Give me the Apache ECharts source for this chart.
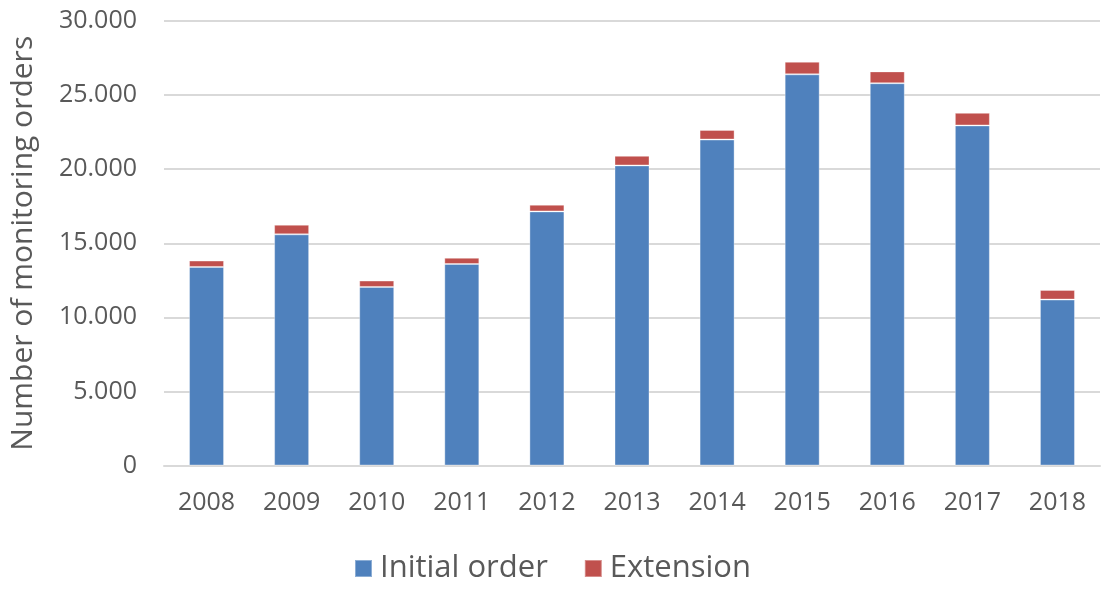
<!DOCTYPE html>
<html>
<head>
<meta charset="utf-8">
<script src="https://cdn.jsdelivr.net/npm/echarts@6/dist/echarts.min.js"></script>
<style>html,body{margin:0;padding:0;background:#fff}#c{width:1105px;height:592px}</style>
</head>
<body>
<div id="c"></div>
<script>
const categories = ['2008','2009','2010','2011','2012','2013','2014','2015','2016','2017','2018'];
const initialOrder = [13400, 15600, 12050, 13600, 17150, 20250, 22000, 26400, 25800, 22950, 11200];
const extension = [430, 650, 430, 420, 450, 650, 650, 850, 800, 850, 650];
const yTicks = [0, 5000, 10000, 15000, 20000, 25000, 30000];

const chart = echarts.init(document.getElementById('c'));
const font = '"Open Sans", sans-serif';
const txt = '#595959';
chart.setOption({
  animation: false,
  grid: { left: 164, right: 5, top: 21, bottom: 126.5, containLabel: false },
  legend: {
    bottom: 3, left: 'center',
    itemWidth: 17, itemHeight: 17, itemGap: 36,
    icon: 'rect',
    textStyle: { fontFamily: font, fontSize: 31, color: txt, padding: [0, 0, 0, 3] },
    data: ['Initial order', 'Extension']
  },
  xAxis: {
    type: 'category', data: categories,
    axisLine: { show: true, lineStyle: { color: '#d9d9d9', width: 2 } },
    axisTick: { show: false },
    axisLabel: { fontFamily: font, fontSize: 25, color: txt, margin: 25 }
  },
  yAxis: {
    type: 'value', min: yTicks[0], max: yTicks[yTicks.length - 1], interval: 5000,
    name: 'Number of monitoring orders', nameLocation: 'middle', nameGap: 126,
    nameTextStyle: { fontFamily: font, fontSize: 30, color: txt },
    axisLine: { show: false }, axisTick: { show: false },
    splitLine: { lineStyle: { color: '#d9d9d9', width: 2 } },
    axisLabel: {
      fontFamily: font, fontSize: 25, color: txt, margin: 27,
      formatter: v => v === 0 ? '0' : String(v).replace(/\B(?=(\d{3})+(?!\d))/g, '.')
    }
  },
  series: [
    { name: 'Initial order', type: 'bar', stack: 's', data: initialOrder, barWidth: 35,
      itemStyle: { color: '#4f81bd', borderColor: 'rgba(255,255,255,0.35)', borderWidth: 1 } },
    { name: 'Extension', type: 'bar', stack: 's', data: extension, barWidth: 35,
      itemStyle: { color: '#c0504d', borderColor: 'rgba(255,255,255,0.35)', borderWidth: 1 } }
  ]
});
</script>
</body>
</html>
